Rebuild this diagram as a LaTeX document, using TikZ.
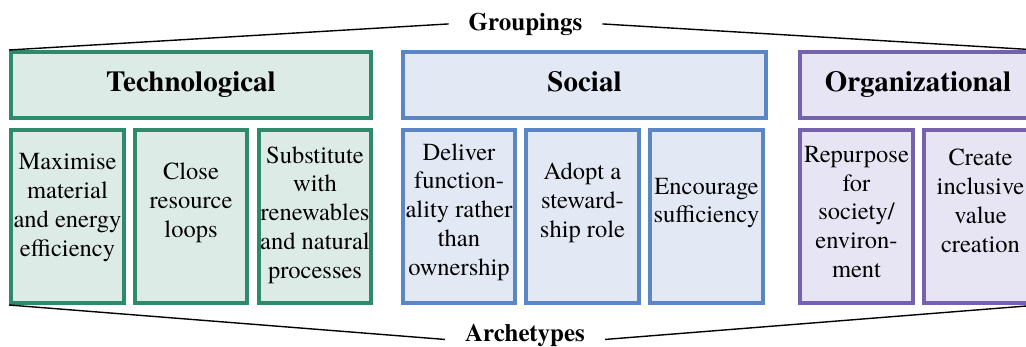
\documentclass[tikz,border=0pt]{standalone}
\usepackage{fontspec}
\newfontfamily\tnr{TeX Gyre Termes}
\definecolor{techB}{HTML}{2F8A6C}
\definecolor{techF}{HTML}{DDEBE7}
\definecolor{socB}{HTML}{5B86C6}
\definecolor{socF}{HTML}{E2E9F5}
\definecolor{orgB}{HTML}{7561AD}
\definecolor{orgF}{HTML}{E7E5F4}
\begin{document}
\begin{tikzpicture}[x=1pt,y=-1pt,
  box/.style={draw, line width=4pt, inner sep=0pt, anchor=center},
  head/.style={box, minimum height=66pt},
  sub/.style={box, minimum height=173pt},
  tech/.style={draw=techB, fill=techF},
  soc/.style={draw=socB, fill=socF},
  org/.style={draw=orgB, fill=orgF},
  headtxt/.style={font=\tnr\fontsize{29}{34}\selectfont\bfseries, text height=19pt, text depth=6pt},
  bodytxt/.style={font=\tnr\fontsize{24.5}{28.8}\selectfont, align=center, inner sep=0pt},
  lbl/.style={font=\tnr\fontsize{25}{30}\selectfont\bfseries, anchor=base, inner xsep=20pt, inner ysep=0pt},
  conn/.style={draw=black, line width=1.4pt}]
\useasboundingbox (0,0) rectangle (1026,347);
\clip (0,0) rectangle (1026,347);
\fill[white] (0,0) rectangle (1026,347);

% headers
\node[head, tech, minimum width=360pt, headtxt] (techhead) at (191,85) {Technological};
\node[head, soc, minimum width=363pt, headtxt] (sochead) at (584.5,85) {Social};
\node[head, org, minimum width=236pt, headtxt] (orghead) at (918,85) {Organizational};

% sub boxes
\node[sub, tech, minimum width=113pt] (t1) at (67.5,216.5) {};
\node[sub, tech, minimum width=112pt] (t2) at (191,216.5) {};
\node[sub, tech, minimum width=112pt] (t3) at (315,216.5) {};
\node[sub, soc, minimum width=112pt] (s1) at (459,216.5) {};
\node[sub, soc, minimum width=113pt] (s2) at (582.5,216.5) {};
\node[sub, soc, minimum width=113pt] (s3) at (706.5,216.5) {};
\node[sub, org, minimum width=113pt] (o1) at (856.5,216.5) {};
\node[sub, org, minimum width=113pt] (o2) at (980.5,216.5) {};

% texts
\node[bodytxt] (t1txt) at (67.5,207.5) {Maximise\\material\\and energy\\efficiency};
\node[bodytxt] (t2txt) at (191,203) {Close\\resource\\loops};
\node[bodytxt] (t3txt) at (315,215) {Substitute\\with\\renewables\\and natural\\processes};
\node[bodytxt] (s1txt) at (459,212) {Deliver\\function-\\ality rather\\than\\ownership};
\node[bodytxt] (s2txt) at (582.5,203) {Adopt a\\steward-\\ship role};
\node[bodytxt] (s3txt) at (706.5,203) {Encourage\\sufficiency};
\node[bodytxt] (o1txt) at (856.5,212) {Repurpose\\for\\society/\\environ-\\ment};
\node[bodytxt] (o2txt) at (980.5,201) {Create\\inclusive\\value\\creation};

% labels
\node[lbl] (grp) at (525.5,31) {Groupings};
\node[lbl] (arch) at (525,341.5) {Archetypes};

% connectors
\draw[conn] (techhead.north west) -- ([yshift=1pt]grp.west);
\draw[conn] ([yshift=1pt]grp.east) -- (orghead.north east);
\draw[conn] (t1.south west) -- ([yshift=-4pt]arch.west);
\draw[conn] ([yshift=-4pt]arch.east) -- (o2.south east);
\end{tikzpicture}
\end{document}
